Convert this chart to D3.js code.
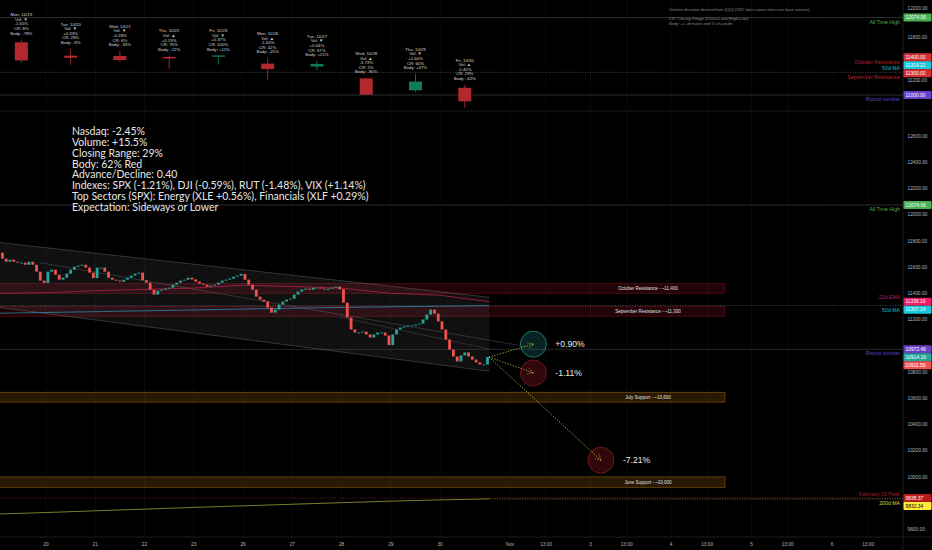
<!DOCTYPE html>
<html>
<head>
<meta charset="utf-8">
<title>Nasdaq daily review</title>
<script src="https://cdn.jsdelivr.net/npm/d3@7/dist/d3.min.js"></script>
<style>
  html, body { margin: 0; padding: 0; background: #000; overflow: hidden; }
  svg { display: block; font-family: "Liberation Sans", Arial, sans-serif; }
</style>
</head>
<body>
<svg id="chart" width="932" height="550"></svg>
<script>
// ---- daily candles (top pane) ----
var dayNames = ["Mon, 10/19", "Tue, 10/20", "Wed, 10/21", "Thu, 10/22", "Fri, 10/23",
                "Mon, 10/26", "Tue, 10/27", "Wed, 10/28", "Thu, 10/29", "Fri, 10/30"];
var dayOpen  = [11730, 11545, 11540, 11528, 11530, 11435, 11395, 11230, 11065, 11100];
var dayHigh  = [11770, 11640, 11611, 11545, 11550, 11510, 11470, 11232, 11290, 11140];
var dayLow   = [11450, 11420, 11460, 11365, 11420, 11210, 11345, 11000, 11045, 10822];
var dayClose = [11479, 11516, 11485, 11506, 11548, 11359, 11431, 11005, 11186, 10912];
var dayVol   = ["\u25BC", "\u25BC", "\u25BC", "\u25B2", "\u25BC", "\u25B2", "\u25BC", "\u25B2", "\u25BC", "\u25B2"];
var dayChg   = ["-1.65%", "+0.33%", "-0.28%", "+0.19%", "+0.37%", "-1.64%", "+0.64%", "-3.73%", "+1.64%", "-2.45%"];
var dayCR    = ["8%", "28%", "6%", "76%", "100%", "42%", "67%", "2%", "60%", "29%"];
var dayBody  = ["-78%", "-9%", "-33%", "-12%", "+11%", "-25%", "+21%", "-90%", "+47%", "-62%"];

// ---- 30 minute closes (main pane), 13 per session ----
var firstOpen = 11730;
var barClose = [
  11710, 11664, 11641, 11656, 11641, 11634, 11634, 11618, 11641, 11618, 11565, 11497, 11479, // 10/19
  11565, 11580, 11542, 11504, 11519, 11550, 11580, 11603, 11611, 11618, 11596, 11558, 11516, // 10/20
  11596, 11596, 11565, 11519, 11504, 11497, 11489, 11504, 11519, 11535, 11550, 11558, 11500, // 10/21
  11481, 11428, 11390, 11420, 11428, 11436, 11443, 11466, 11481, 11497, 11504, 11519, 11506, // 10/22
  11489, 11474, 11466, 11451, 11459, 11466, 11481, 11497, 11504, 11512, 11527, 11535, 11548, // 10/23
  11504, 11466, 11428, 11375, 11352, 11337, 11291, 11253, 11276, 11314, 11337, 11352, 11359, // 10/26
  11390, 11413, 11428, 11436, 11428, 11443, 11443, 11436, 11428, 11436, 11443, 11451, 11431, // 10/27
  11329, 11215, 11124, 11101, 11101, 11108, 11086, 11063, 11086, 11101, 11101, 11078, 11005, // 10/28
  11086, 11124, 11139, 11147, 11154, 11154, 11162, 11169, 11200, 11238, 11276, 11245, 11186, // 10/29
  11124, 11048, 10971, 10918, 10880, 10926, 10949, 10918, 10895, 10873, 10857, 10857, 10914  // 10/30
];

// moving averages at session boundaries (day 0..10)
var ema21 = [11400, 11405, 11420, 11430, 11440, 11462, 11452, 11440, 11400, 11385, 11336];
var ma50  = [11248, 11254, 11260, 11267, 11273, 11280, 11286, 11292, 11297, 11302, 11307];
var ma200 = [9716, 9728, 9741, 9754, 9767, 9779, 9791, 9803, 9815, 9824, 9832];

// channel and trend lines: [day, price] pairs
var channelUpper = [[0, 11790], [10, 11370]];
var channelLower = [[0, 11295], [10, 10805]];
var trendA = [[0.88, 11634], [11.2, 10994]];
var trendB = [[6.97, 11218], [10, 10975]];

// zones
var zoneNames = ["October Resistance - ~11,400", "September Resistance - ~11,300", "July Support - ~10,600", "June Support - ~10,000"];
var zoneTop    = [11475, 11300, 10645, 10000];
var zoneBottom = [11400, 11225, 10570, 9920];
var zoneKind   = ["res", "res", "sup", "sup"];
var zoneEnd = 13.67;

// forecast targets
var targetText = ["+0.90%", "-1.11%", "-7.21%"];
var targetPct  = [0.0090, -0.0111, -0.0721];
var targetDay  = [11.29, 11.29, 12.13];
var targetKind = ["up", "down", "down"];

// axis ticks
var histTicks = ["20", "21", "22", "23", "26", "27", "28", "29", "30"];   // days 1..9
var futTicks  = ["Nov", "13:00", "3", "13:00", "4", "13:00", "5", "13:00", "6", "13:00"];
var futDays   = [11, 11.45, 12, 12.45, 13, 13.45, 14, 14.45, 15, 15.45];
var topTicks  = [12200, 12000, 11800, 11600, 11400, 11200, 11000];
var mainTicks = [12600, 12400, 12200, 12000, 11800, 11600, 11400, 11200, 11000, 10800, 10600, 10400, 10200, 10000, 9800, 9600];

// right side markers
var topMarks = [
  {value: 12074.06, text: "12074.06", bg: "#4caf50", fg: "#fff", name: "All Time High", nameColor: "#4caf50", pos: 1},
  {value: 11400.00, text: "11400.00", bg: "#d32f2f", fg: "#fff", name: "October Resistance", nameColor: "#b5232b", pos: -1},
  {value: 11314.21, text: "11314.21", bg: "#1cc6da", fg: "#fff", name: "50d MA", nameColor: "#20b8cc", pos: -1},
  {value: 11300.00, text: "11300.00", bg: "#d32f2f", fg: "#fff", name: "September Resistance", nameColor: "#b5232b", pos: 1},
  {value: 11000.00, text: "11000.00", bg: "#6a3fc8", fg: "#fff", name: "Round number", nameColor: "#5b45c4", pos: 1}
];
var mainMarks = [
  {value: 12074.06, text: "12074.06", bg: "#4caf50", fg: "#fff", name: "All Time High", nameColor: "#4caf50", pos: 1},
  {value: 11336.19, text: "11336.19", bg: "#e91e63", fg: "#fff", name: "21d EMA", nameColor: "#c2185b", pos: -1},
  {value: 11307.14, text: "11307.14", bg: "#1cc6da", fg: "#fff", name: "50d MA", nameColor: "#20b8cc", pos: 1},
  {value: 10972.46, text: "10972.46", bg: "#6a3fc8", fg: "#fff", name: "Round number", nameColor: "#5b45c4", pos: 1},
  {value: 10914.16, text: "10914.16", bg: "#26a69a", fg: "#fff", name: "", pos: 0},
  {value: 10911.59, text: "10911.59", bg: "#ef5350", fg: "#fff", name: "", pos: 0},
  {value: 9838.37, text: "9838.37", bg: "#b71c1c", fg: "#fff", name: "February 19 Peak", nameColor: "#a31d24", pos: -1},
  {value: 9832.34, text: "9832.34", bg: "#ffeb3b", fg: "#000", name: "200d MA", nameColor: "#d8d44a", pos: 1}
];

var summaryLines = [
  "Nasdaq: -2.45%",
  "Volume: +15.5%",
  "Closing Range: 29%",
  "Body: 62% Red",
  "Advance/Decline: 0.40",
  "Indexes: SPX (-1.21%), DJI (-0.59%), RUT (-1.48%), VIX (+1.14%)",
  "Top Sectors (SPX): Energy (XLE +0.56%), Financials (XLF +0.29%)",
  "Expectation: Sideways or Lower"
];
var noteLines = [
  "Volume direction derived from QQQ (IXIC data source does not have volume).",
  "",
  "CR: Closing Range (Close-Low)/(High-Low)",
  "Body: +/- direction and % of candle"
];

// ---- layout ----
var W = 932, H = 550, plotR = 903, paneSplit = 111, axisY = 537;

var x = d3.scaleLinear().domain([0, 10, 11, 15]).range([-3.3, 489.4, 510, 832]);
var yTop = d3.scaleLinear().domain([11000, 12200]).range([95, 8.4]);
var yMain = d3.scaleLinear().domain([9600, 12600]).range([529.3, 136]);

var svg = d3.select("#chart");
svg.append("rect").attr("width", W).attr("height", H).attr("fill", "#000");

var defs = svg.append("defs");
defs.append("clipPath").attr("id", "clipTop").append("rect")
    .attr("x", 0).attr("y", 0).attr("width", plotR).attr("height", paneSplit - 0.5);
defs.append("clipPath").attr("id", "clipMain").append("rect")
    .attr("x", 0).attr("y", paneSplit + 0.5).attr("width", plotR).attr("height", axisY - paneSplit - 0.5);

var topPane = svg.append("g").attr("clip-path", "url(#clipTop)");
var mainPane = svg.append("g").attr("clip-path", "url(#clipMain)");

// grid
var gridDays = d3.range(1, 10).concat(futDays);
[topPane, mainPane].forEach(function(g) {
  g.selectAll("line.vgrid").data(gridDays).enter().append("line")
      .attr("class", "vgrid")
      .attr("x1", function(d) { return x(d); }).attr("x2", function(d) { return x(d); })
      .attr("y1", 0).attr("y2", axisY)
      .attr("stroke", "#0f0f0f").attr("stroke-width", 0.6);
});

// pane separator and axis borders
svg.append("line").attr("x1", 0).attr("x2", W).attr("y1", paneSplit).attr("y2", paneSplit)
    .attr("stroke", "#1c1c1c").attr("stroke-width", 1);
svg.append("line").attr("x1", 0).attr("x2", W).attr("y1", axisY).attr("y2", axisY)
    .attr("stroke", "#1c1c1c").attr("stroke-width", 1);
svg.append("line").attr("x1", plotR).attr("x2", plotR).attr("y1", 0).attr("y2", H)
    .attr("stroke", "#1c1c1c").attr("stroke-width", 1);

function hline(g, y, color, dash, width) {
  g.append("line").attr("x1", 0).attr("x2", plotR).attr("y1", y).attr("y2", y)
      .attr("stroke", color).attr("stroke-width", width || 0.8)
      .attr("stroke-dasharray", dash || null);
}

// ================= TOP PANE =================
hline(topPane, yTop(12074.06), "#3a3a3a");
hline(topPane, yTop(11000), "#3a3a3a");
hline(topPane, yTop(11314.21), "#5a5a5a", "1,1.5");

var daily = dayNames.map(function(n, i) {
  return {i: i, name: n, o: dayOpen[i], h: dayHigh[i], l: dayLow[i], c: dayClose[i],
          lines: [n, "Vol: " + dayVol[i], dayChg[i], "CR: " + dayCR[i], "Body: " + dayBody[i]]};
});

var dg = topPane.selectAll("g.day").data(daily).enter().append("g").attr("class", "day");
dg.append("line")
    .attr("x1", function(d) { return x(d.i + 0.5); }).attr("x2", function(d) { return x(d.i + 0.5); })
    .attr("y1", function(d) { return yTop(d.h); }).attr("y2", function(d) { return yTop(d.l); })
    .attr("stroke", function(d) { return d.c >= d.o ? "#0f8a6a" : "#c0303a"; }).attr("stroke-width", 0.8);
dg.append("rect")
    .attr("x", function(d) { return x(d.i + 0.5) - 6.5; }).attr("width", 13)
    .attr("y", function(d) { return yTop(Math.max(d.o, d.c)); })
    .attr("height", function(d) { return Math.max(1, Math.abs(yTop(d.o) - yTop(d.c))); })
    .attr("fill", function(d) { return d.c >= d.o ? "#0f7a5e" : "#b3282f"; });
dg.each(function(d) {
  var g = d3.select(this);
  var base = yTop(d.h) - 6.3;
  d.lines.forEach(function(t, k) {
    g.append("text")
        .attr("x", x(d.i + 0.5)).attr("y", base - (4 - k) * 4.6 + 1.5)
        .attr("text-anchor", "middle").attr("font-size", 4.3).attr("fill", "#d6d6d6")
        .text(t);
  });
});

topPane.selectAll("text.note").data(noteLines).enter().append("text")
    .attr("x", 669).attr("y", function(d, i) { return 10.8 + i * 4.8; })
    .attr("font-size", 4.1).attr("font-style", "italic").attr("fill", "#8a8a8a")
    .text(function(d) { return d; });

// ================= MAIN PANE =================
hline(mainPane, yMain(12074.06), "#3a3a3a");
hline(mainPane, yMain(10972.46), "#2e2e2e");

// zones
var zones = zoneNames.map(function(n, i) {
  return {name: n, top: zoneTop[i], bottom: zoneBottom[i], kind: zoneKind[i]};
});
var zg = mainPane.selectAll("g.zone").data(zones).enter().append("g").attr("class", "zone");
zg.append("rect")
    .attr("x", x(0)).attr("width", x(zoneEnd) - x(0))
    .attr("y", function(d) { return yMain(d.top); })
    .attr("height", function(d) { return yMain(d.bottom) - yMain(d.top); })
    .attr("fill", function(d) { return d.kind === "res" ? "rgba(170,20,40,0.2)" : "rgba(230,150,20,0.17)"; })
    .attr("stroke", function(d) { return d.kind === "res" ? "rgba(170,25,40,0.45)" : "rgba(200,140,20,0.5)"; })
    .attr("stroke-width", 0.8);
zg.append("text")
    .attr("x", 648).attr("y", function(d) { return (yMain(d.top) + yMain(d.bottom)) / 2 + 1.6; })
    .attr("text-anchor", "middle").attr("font-size", 4.5).attr("fill", "#e0e0e0")
    .text(function(d) { return d.name; });

// channel
var chan = [[channelUpper[0][0], channelUpper[0][1]], [channelUpper[1][0], channelUpper[1][1]],
            [channelLower[1][0], channelLower[1][1]], [channelLower[0][0], channelLower[0][1]]];
mainPane.append("polygon")
    .attr("points", chan.map(function(p) { return x(p[0]) + "," + yMain(p[1]); }).join(" "))
    .attr("fill", "rgba(120,123,134,0.13)").attr("stroke", "none");
var segLine = d3.line().x(function(p) { return x(p[0]); }).y(function(p) { return yMain(p[1]); });
[channelUpper, channelLower].forEach(function(l) {
  mainPane.append("path").attr("d", segLine(l)).attr("fill", "none")
      .attr("stroke", "rgba(120,123,134,0.55)").attr("stroke-width", 0.7);
});
mainPane.append("path").attr("d", segLine(trendA)).attr("fill", "none")
    .attr("stroke", "rgba(130,130,130,0.5)").attr("stroke-width", 0.6);
mainPane.append("path").attr("d", segLine(trendB)).attr("fill", "none")
    .attr("stroke", "rgba(130,130,130,0.45)").attr("stroke-width", 0.6);

// dotted price lines
hline(mainPane, yMain(11307.14), "#4a5a60", "1,1.5");
hline(mainPane, yMain(9838.37), "#8a2228", "1,1.5");
mainPane.append("line").attr("x1", x(10)).attr("x2", plotR)
    .attr("y1", yMain(9832.34)).attr("y2", yMain(9832.34))
    .attr("stroke", "#8a8630").attr("stroke-width", 0.8).attr("stroke-dasharray", "1,1.5");

// moving averages
var maLine = d3.line().x(function(d, i) { return x(i); }).y(function(d) { return yMain(d); });
mainPane.append("path").attr("d", maLine(ma200)).attr("fill", "none").attr("stroke", "#9c9a35").attr("stroke-width", 0.8);
mainPane.append("path").attr("d", maLine(ma50)).attr("fill", "none").attr("stroke", "#2a86a8").attr("stroke-width", 0.8);
mainPane.append("path").attr("d", maLine(ema21)).attr("fill", "none").attr("stroke", "#b0204f").attr("stroke-width", 0.8);

// intraday candles
var bars = barClose.map(function(c, i) {
  return {o: i === 0 ? firstOpen : barClose[i - 1], c: c, t: Math.floor(i / 13) + (i % 13 + 0.5) / 13};
});
mainPane.selectAll("rect.bar").data(bars).enter().append("rect")
    .attr("class", "bar")
    .attr("x", function(d) { return x(d.t) - 1.4; }).attr("width", 2.8)
    .attr("y", function(d) { return yMain(Math.max(d.o, d.c)); })
    .attr("height", function(d) { return Math.max(0.8, Math.abs(yMain(d.o) - yMain(d.c))); })
    .attr("fill", function(d) { return d.c >= d.o ? "#26a69a" : "#ef5350"; });

// forecast targets
var last = bars[bars.length - 1];
var x0 = x(last.t) + 1.5, y0 = yMain(last.c);
var targets = targetText.map(function(t, i) {
  return {text: t, price: last.c * (1 + targetPct[i]), day: targetDay[i], kind: targetKind[i]};
});
var tg = mainPane.selectAll("g.target").data(targets).enter().append("g").attr("class", "target");
tg.append("circle")
    .attr("cx", function(d) { return x(d.day); }).attr("cy", function(d) { return yMain(d.price); })
    .attr("r", 13)
    .attr("fill", function(d) { return d.kind === "up" ? "rgba(38,166,154,0.22)" : "rgba(160,25,30,0.3)"; })
    .attr("stroke", function(d) { return d.kind === "up" ? "#1f8f86" : "#7e1c20"; })
    .attr("stroke-width", 0.8);
tg.each(function(d) {
  var g = d3.select(this);
  var cx = x(d.day), cy = yMain(d.price);
  var a = Math.atan2(cy - y0, cx - x0);
  g.append("line").attr("x1", x0).attr("y1", y0).attr("x2", cx).attr("y2", cy)
      .attr("stroke", "#d8cf55").attr("stroke-width", 0.8).attr("stroke-dasharray", "1.2,1.6");
  [-0.5, 0.5].forEach(function(s) {
    g.append("line").attr("x1", cx).attr("y1", cy)
        .attr("x2", cx - 6 * Math.cos(a + s)).attr("y2", cy - 6 * Math.sin(a + s))
        .attr("stroke", "#d8cf55").attr("stroke-width", 0.8).attr("stroke-dasharray", "1.2,1.4");
  });
  g.append("text").attr("x", cx + 22).attr("y", cy + 3)
      .attr("font-size", 8.6).attr("fill", "#e8e8e8").text(d.text);
});

// summary text
mainPane.selectAll("text.sum").data(summaryLines).enter().append("text")
    .attr("x", 72).attr("y", function(d, i) { return 135 + i * 10.86; })
    .attr("font-family", "Lato, 'Open Sans', sans-serif")
    .attr("font-size", 10.5).attr("fill", "#e6e6e6")
    .text(function(d) { return d; });

// ================= AXES =================
function stack(list, scale, dir) {
  list.forEach(function(d) { d.py = scale(d.value); });
  var s = list.slice().sort(function(a, b) { return dir > 0 ? a.py - b.py : b.py - a.py; });
  for (var i = 1; i < s.length; i++) {
    if (dir > 0 && s[i].py < s[i - 1].py + 8) s[i].py = s[i - 1].py + 8;
    if (dir < 0 && s[i].py > s[i - 1].py - 8) s[i].py = s[i - 1].py - 8;
  }
}
stack(topMarks, yTop, -1);
stack(mainMarks, yMain, 1);

// price ticks, hidden where a coloured marker sits on them
function freeTicks(ticks, scale, marks) {
  return ticks.filter(function(t) {
    return marks.every(function(m) { return Math.abs(scale(t) - m.py) > 6.5; });
  });
}
svg.selectAll("text.tt").data(freeTicks(topTicks, yTop, topMarks)).enter().append("text")
    .attr("x", 907.5).attr("y", function(d) { return yTop(d) + 1.7; })
    .attr("font-size", 4.8).attr("fill", "#b2b5be")
    .text(function(d) { return d.toFixed(2); });
svg.selectAll("text.mt").data(freeTicks(mainTicks, yMain, mainMarks)).enter().append("text")
    .attr("x", 907.5).attr("y", function(d) { return yMain(d) + 1.7; })
    .attr("font-size", 4.8).attr("fill", "#b2b5be")
    .text(function(d) { return d.toFixed(2); });

function drawMarks(list, scale, layer) {
  var g = svg.selectAll(null).data(list).enter().append("g");
  g.append("rect").attr("x", plotR + 0.5).attr("width", W - plotR - 1)
      .attr("y", function(d) { return d.py - 4; }).attr("height", 8).attr("rx", 1)
      .attr("fill", function(d) { return d.bg; });
  g.append("text").attr("x", 905.5).attr("y", function(d) { return d.py + 1.8; })
      .attr("font-size", 4.9).attr("fill", function(d) { return d.fg; })
      .text(function(d) { return d.text; });
  layer.selectAll(null).data(list.filter(function(d) { return d.name; })).enter().append("text")
      .attr("x", 900).attr("y", function(d) { return scale(d.value) + d.pos * 4.3 + 1.8; })
      .attr("text-anchor", "end").attr("font-size", 5.2)
      .attr("fill", function(d) { return d.nameColor; })
      .text(function(d) { return d.name; });
}
drawMarks(topMarks, yTop, topPane);
drawMarks(mainMarks, yMain, mainPane);

// time axis
svg.selectAll("text.xh").data(histTicks).enter().append("text")
    .attr("x", function(d, i) { return x(i + 1); }).attr("y", 546)
    .attr("text-anchor", "middle").attr("font-size", 4.8).attr("fill", "#b2b5be")
    .text(function(d) { return d; });
svg.selectAll("text.xf").data(futTicks).enter().append("text")
    .attr("x", function(d, i) { return x(futDays[i]); }).attr("y", 546)
    .attr("text-anchor", "middle").attr("font-size", 4.8).attr("fill", "#b2b5be")
    .text(function(d) { return d; });
</script>
</body>
</html>
